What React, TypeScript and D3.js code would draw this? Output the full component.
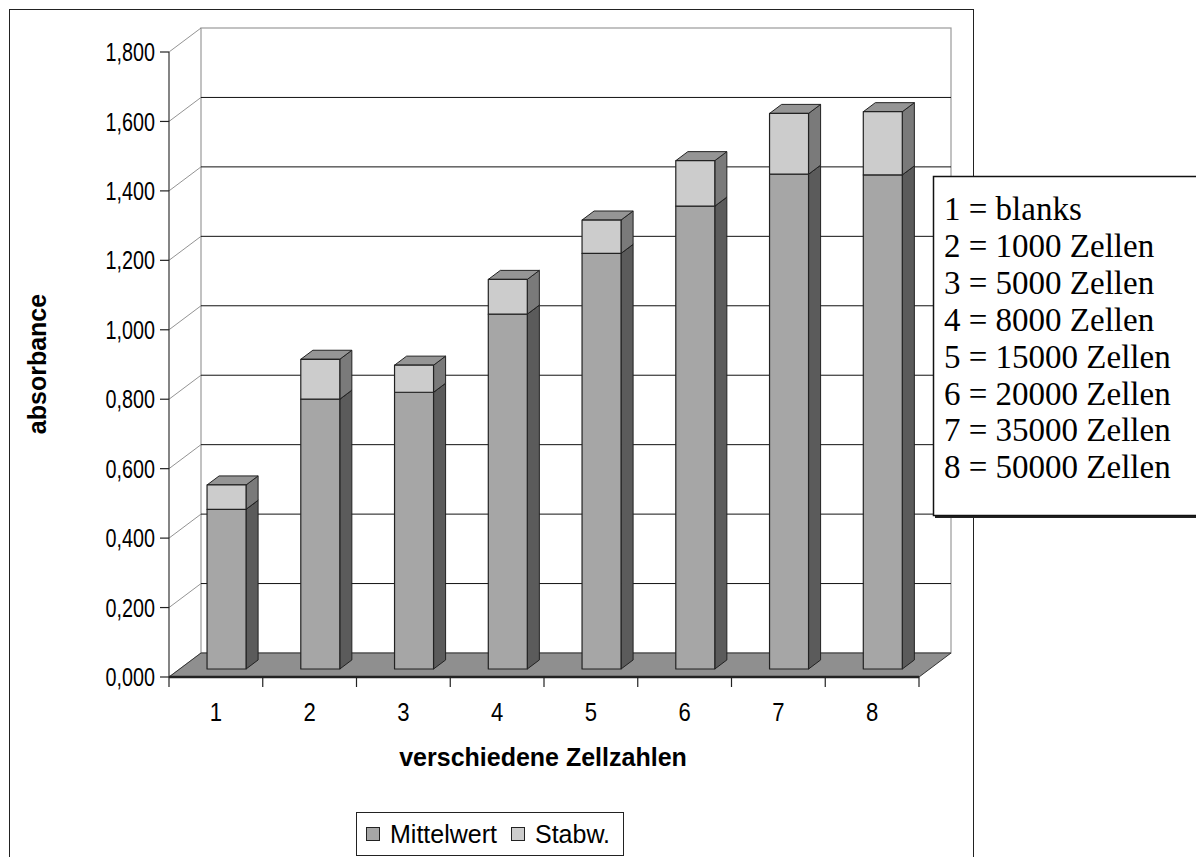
import React from "react";
import * as d3 from "d3";

// Chart values
const categories = ["1", "2", "3", "4", "5", "6", "7", "8"];
const mittelwert = [0.46, 0.777, 0.797, 1.022, 1.197, 1.333, 1.425, 1.423];
const stabw = [0.07, 0.115, 0.078, 0.1, 0.096, 0.131, 0.175, 0.182];
const yTicks = [0, 0.2, 0.4, 0.6, 0.8, 1.0, 1.2, 1.4, 1.6, 1.8];
const seriesNames = ["Mittelwert", "Stabw."];
const keyLines = [
  "1 = blanks",
  "2 = 1000 Zellen",
  "3 = 5000 Zellen",
  "4 = 8000 Zellen",
  "5 = 15000 Zellen",
  "6 = 20000 Zellen",
  "7 = 35000 Zellen",
  "8 = 50000 Zellen",
];

// Plot geometry (front plane + depth offset)
const X0 = 169;
const Y0 = 677;
const PW = 750;
const PH = 625;
const DX = 32;
const DY = 24;
const BAR_D0 = 1 / 3;
const BAR_D1 = 0.71;

const y = d3.scaleLinear().domain([0, 1.8]).range([Y0, Y0 - PH]);
const x = d3
  .scaleBand<string>()
  .domain(categories)
  .range([X0, X0 + PW])
  .paddingInner(0.584)
  .paddingOuter(0.292);

const fmt = (v: number) => d3.format(".3f")(v).replace(".", ",");

const pt = (px: number, py: number, d: number) => [px + DX * d, py - DY * d];
const poly = (pts: number[][]) => pts.map((p) => p.join(",")).join(" ");

const COLORS = {
  mFront: "#a6a6a6",
  mSide: "#5b5b5b",
  mTop: "#8a8a8a",
  sFront: "#cccccc",
  sSide: "#7a7a7a",
  sTop: "#959595",
  floor: "#8f8f8f",
};

const SANS = "'Liberation Sans', Arial, sans-serif";
const SERIF = "'Liberation Serif', 'Times New Roman', serif";
const FS = 25;

function Bar({ i }: { i: number }) {
  const cat = categories[i];
  const xl = x(cat)!;
  const bw = x.bandwidth();
  const segs = [
    { v0: 0, v1: mittelwert[i], front: COLORS.mFront, side: COLORS.mSide, top: COLORS.mTop },
    {
      v0: mittelwert[i],
      v1: mittelwert[i] + stabw[i],
      front: COLORS.sFront,
      side: COLORS.sSide,
      top: COLORS.sTop,
    },
  ];
  const stroke = "#222";
  return (
    <g>
      {segs.map((s, k) => {
        const yb = y(s.v0);
        const yt = y(s.v1);
        const fl = pt(xl, yt, BAR_D0);
        const fr = pt(xl + bw, yt, BAR_D0);
        const flb = pt(xl, yb, BAR_D0);
        const frb = pt(xl + bw, yb, BAR_D0);
        const bl = pt(xl, yt, BAR_D1);
        const br = pt(xl + bw, yt, BAR_D1);
        const brb = pt(xl + bw, yb, BAR_D1);
        return (
          <g key={k}>
            <polygon points={poly([fr, br, brb, frb])} fill={s.side} stroke={stroke} strokeWidth={1} strokeLinejoin="round" />
            <polygon points={poly([fl, bl, br, fr])} fill={s.top} stroke={stroke} strokeWidth={1} strokeLinejoin="round" />
            <polygon points={poly([fl, fr, frb, flb])} fill={s.front} stroke={stroke} strokeWidth={1.2} strokeLinejoin="round" />
          </g>
        );
      })}
    </g>
  );
}

export default function App() {
  const back = (v: number) => pt(X0, y(v), 1);
  const catTicks = d3.range(categories.length + 1).map((k) => X0 + (PW / categories.length) * k);
  return (
    <svg
      width={1196}
      height={857}
      style={{ position: "absolute", left: 0, top: 0, background: "#fff" }}
    >
      {/* chart area frame */}
      <rect x={9.5} y={9.5} width={964} height={870} fill="none" stroke="#222" strokeWidth={1} />

      {/* back wall */}
      <rect
        x={X0 + DX}
        y={y(1.8) - DY}
        width={PW}
        height={PH}
        fill="#fff"
        stroke="#9a9a9a"
        strokeWidth={1.2}
      />
      {/* gridlines on back wall and side wall */}
      {yTicks.map((v) => {
        const [bx, by] = back(v);
        return (
          <g key={v}>
            {v > 0 && v < 1.8 && (
              <line x1={bx} x2={bx + PW} y1={by} y2={by} stroke="#111" strokeWidth={1} />
            )}
            <line x1={X0} y1={y(v)} x2={bx} y2={by} stroke="#777" strokeWidth={0.8} />
          </g>
        );
      })}

      {/* floor */}
      <polygon
        points={poly([pt(X0, Y0, 0), pt(X0 + PW, Y0, 0), pt(X0 + PW, Y0, 1), pt(X0, Y0, 1)])}
        fill={COLORS.floor}
        stroke="#333"
        strokeWidth={1}
      />

      {/* bars */}
      {categories.map((c, i) => (
        <Bar key={c} i={i} />
      ))}

      {/* value axis */}
      <line x1={X0} x2={X0} y1={y(1.8)} y2={Y0} stroke="#333" strokeWidth={1.2} />
      {yTicks.map((v) => (
        <g key={v}>
          <line x1={X0 - 9} x2={X0} y1={y(v)} y2={y(v)} stroke="#222" strokeWidth={1.2} />
          <text
            transform={`translate(${X0 - 14},${y(v)}) scale(0.76,1)`}
            dy="0.35em"
            textAnchor="end"
            fontFamily={SANS}
            fontSize={26}
            fill="#000"
          >
            {fmt(v)}
          </text>
        </g>
      ))}

      {/* category axis */}
      <line x1={X0} x2={X0 + PW} y1={Y0} y2={Y0} stroke="#222" strokeWidth={2.5} />
      {catTicks.map((tx) => (
        <line key={tx} x1={tx} x2={tx} y1={Y0} y2={Y0 + 10} stroke="#222" strokeWidth={1.2} />
      ))}
      {categories.map((c) => (
        <text
          key={c}
          transform={`translate(${x(c)! + x.bandwidth() / 2},712) scale(0.85,1)`}
          dy="0.35em"
          textAnchor="middle"
          fontFamily={SANS}
          fontSize={26}
        >
          {c}
        </text>
      ))}

      {/* axis titles */}
      <text
        x={543}
        y={757}
        dy="0.35em"
        textAnchor="middle"
        fontFamily={SANS}
        fontWeight="bold"
        fontSize={FS}
      >
        verschiedene Zellzahlen
      </text>
      <text
        transform="translate(37,364) rotate(-90)"
        dy="0.35em"
        textAnchor="middle"
        fontFamily={SANS}
        fontWeight="bold"
        fontSize={FS}
      >
        absorbance
      </text>

      {/* series legend */}
      <rect x={356.5} y={812.5} width={267} height={43} fill="#fff" stroke="#222" strokeWidth={1} />
      {seriesNames.map((n, k) => {
        const lx = k === 0 ? 366 : 511;
        return (
          <g key={n}>
            <rect
              x={lx + 0.5}
              y={827.5}
              width={13}
              height={13}
              fill={k === 0 ? COLORS.mFront : COLORS.sFront}
              stroke="#222"
              strokeWidth={1}
            />
            <text x={lx + 24} y={834} dy="0.35em" fontFamily={SANS} fontSize={FS}>
              {n}
            </text>
          </g>
        );
      })}

      {/* key text box */}
      <rect x={935} y={178} width={270} height={340} fill="#222" />
      <rect x={933.5} y={176.5} width={270} height={339} fill="#fff" stroke="#111" strokeWidth={1.5} />
      {keyLines.map((t, k) => (
        <text key={t} x={944} y={220 + k * 36.9} fontFamily={SERIF} fontSize={33} fill="#000">
          {t}
        </text>
      ))}
    </svg>
  );
}
